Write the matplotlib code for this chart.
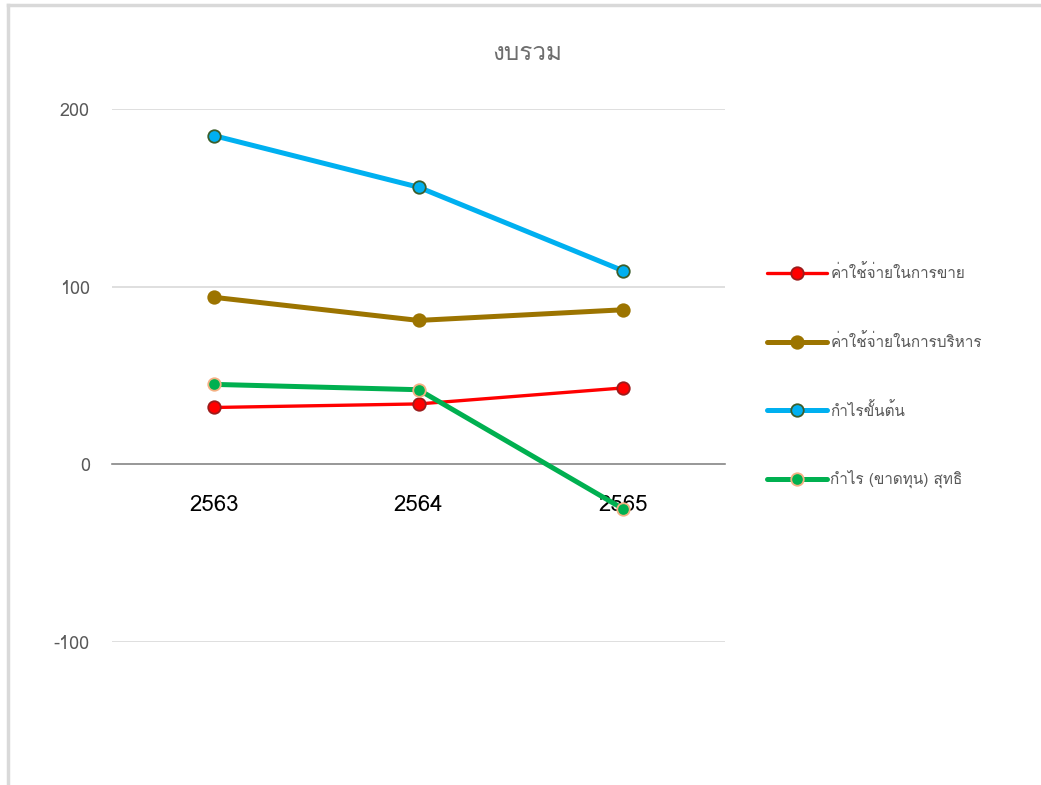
import matplotlib
matplotlib.use("Agg")
import matplotlib.pyplot as plt
from matplotlib import font_manager
from matplotlib.ft2font import FT2Font
from matplotlib.lines import Line2D

# Data
years = ["2563", "2564", "2565"]
selling_exp = [32, 34, 43]
admin_exp = [94, 81, 87]
gross_profit = [185, 156, 109]
net_profit = [45, 42, -25]
series_names = ["ค่าใช้จ่ายในการขาย", "ค่าใช้จ่ายในการบริหาร", "กำไรขั้นต้น", "กำไร (ขาดทุน) สุทธิ"]
title = "งบรวม"

# find an installed font that has Thai glyphs
thai_font = None
for f in font_manager.fontManager.ttflist:
    try:
        if 0x0E01 in FT2Font(f.fname).get_charmap():
            thai_font = f.name
            break
    except Exception:
        pass
families = ([thai_font] if thai_font else []) + ["DejaVu Sans"]
plt.rcParams['font.family'] = families
plt.rcParams['axes.unicode_minus'] = False

fig = plt.figure(figsize=(10.41, 7.85), dpi=100)
ax = fig.add_axes([0.1076, 0.1822, 0.589, 0.6789])

x = list(range(len(years)))
styles = [
    dict(color="#FF0000", lw=2.4, mfc="#FF0000", mec="#9B1C1C"),
    dict(color="#9C7400", lw=3.6, mfc="#9C7400", mec="#9C7400"),
    dict(color="#00B0F0", lw=3.6, mfc="#00B0F0", mec="#3B5E2B"),
    dict(color="#00B050", lw=3.6, mfc="#00B050", mec="#F4B183"),
]
for vals, name, st in zip([selling_exp, admin_exp, gross_profit, net_profit], series_names, styles):
    ax.plot(x, vals, color=st["color"], lw=st["lw"], marker="o", markersize=9,
            markerfacecolor=st["mfc"], markeredgecolor=st["mec"], markeredgewidth=1.3,
            label=name, solid_capstyle="round", zorder=3)

ax.set_xlim(-0.5, 2.5)
ax.set_ylim(-100, 200)
ax.set_yticks([-100, 0, 100, 200])
ax.yaxis.grid(True, color="#D9D9D9", lw=1.2)
ax.set_axisbelow(True)
for s in ["left", "right", "top"]:
    ax.spines[s].set_visible(False)
ax.spines["bottom"].set_position(("data", 0))
ax.spines["bottom"].set_color("#8C8C8C")
ax.spines["bottom"].set_linewidth(1.2)
ax.set_xticks(x)
ax.set_xticklabels(years)
ax.tick_params(axis="x", length=0, pad=22, labelsize=16, labelcolor="#000000")
ax.tick_params(axis="y", length=0, pad=16, labelsize=13, labelcolor="#595959")

fig.text(0.506, 0.932, title, ha="center", va="center", fontsize=17.5,
         color="#6E6E6E", fontweight="normal")

leg = fig.legend(loc="upper left", bbox_to_anchor=(0.731, 0.671), frameon=False,
                 fontsize=11, labelcolor="#595959", handlelength=3.9, handletextpad=0.25,
                 labelspacing=3.38, borderaxespad=0)

# outer chart border (left and top visible)
fig.add_artist(Line2D([0.008, 0.008], [0.0, 0.994], color="#D9D9D9", lw=2.5, transform=fig.transFigure))
fig.add_artist(Line2D([0.008, 1.0], [0.994, 0.994], color="#D9D9D9", lw=2.5, transform=fig.transFigure))

fig.savefig("out.png", dpi=100)
